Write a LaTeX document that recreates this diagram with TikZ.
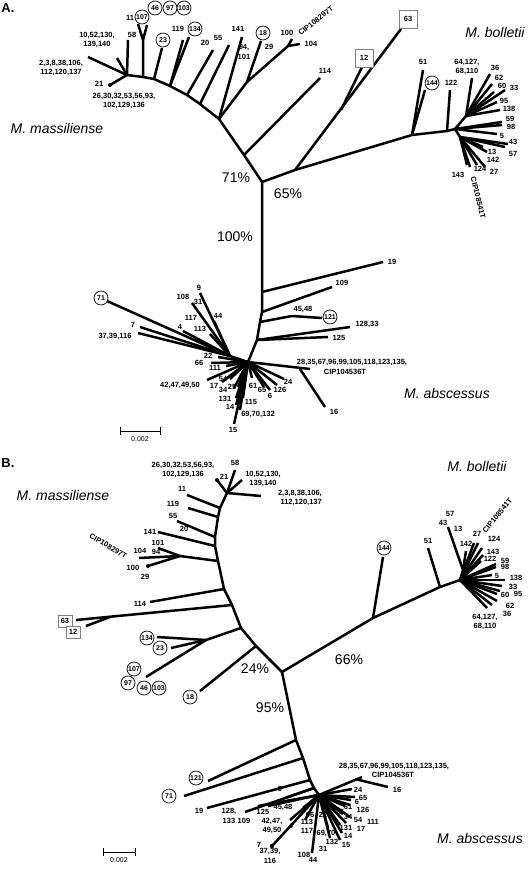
\documentclass[tikz,border=0pt]{standalone}
\usepackage{fontspec}
\setmainfont{Liberation Sans}
\usepackage{tikz}

\begin{document}
\begin{tikzpicture}[x=1pt,y=-1pt,line join=round,
    br/.style={line width=2.5pt},
    lab/.style={font=\bfseries\fontsize{7.5}{9.5}\selectfont, inner sep=0pt, align=center},
    circ/.style={draw, circle, line width=0.7pt, inner sep=0pt, minimum size=14pt, fill=white, font=\bfseries\fontsize{7}{8}\selectfont},
    sq/.style={draw=gray, line width=0.7pt, inner sep=0pt, minimum size=18pt, fill=white, font=\bfseries\fontsize{7.5}{8}\selectfont},
    spec/.style={font=\itshape\fontsize{14}{16}\selectfont, inner sep=0pt},
    pct/.style={font=\fontsize{14}{16}\selectfont, inner sep=0pt}]
\useasboundingbox (0,0) rectangle (528,869);

%%%%%%%%%%%%%%%% A %%%%%%%%%%%%%%%%
\node[font=\bfseries\fontsize{13}{14}\selectfont, inner sep=0pt] (pA) at (8,8) {A.};
\node[spec] (mA) at (57,128) {M. massiliense};
\node[spec] (bA) at (495,32) {M. bolletii};
\node[spec] (abA) at (447,393) {M. abscessus};
\node[pct] (p71) at (236,178) {71\%};
\node[pct] (p65) at (288,194) {65\%};
\node[pct] (p100) at (235,237) {100\%};

% massiliense
\coordinate (a0) at (262,182);
\coordinate (a1) at (244,155);
\coordinate (a2) at (219,119);
\coordinate (a3) at (200,104);
\coordinate (a4) at (187,95);
\coordinate (a5) at (170,86);
\coordinate (a6) at (154,79);
\coordinate (a7) at (143,77);
\coordinate (a8) at (127,75);
\coordinate (a9) at (247,82);
\coordinate (a10) at (288,46);
\coordinate (a11) at (143,40);
\draw[br] (a0) -- (a1) -- (a2) -- (a3) -- (a4) -- (a5) -- (a6) -- (a7) -- (a8);
\draw[br] (a1) -- (320,78);
\draw[br] (a2) -- (242,37);
\draw[br] (a2) -- (a9) -- (261,41);
\draw[br] (a9) -- (a10) -- (292,39);
\draw[br] (a10) -- (300,44);
\draw[br] (a3) -- (229,45);
\draw[br] (a4) -- (213,50);
\draw[br] (a5) -- (183,40);
\draw[br] (a5) -- (189,37);
\draw[br] (a6) -- (162,48);
\draw[br] (a7) -- (a11) -- (138,24);
\draw[br] (a11) -- (147,25);
\draw[br] (a8) -- (128,40);
\draw[br] (a8) -- (117,58);
\draw[br] (a8) -- (88,57);
\draw[br] (a8) -- (110,85);
\fill (110,85) circle (2pt);
\node[lab] (aL114) at (325,71) {114};
\node[lab] (aL141) at (238,29) {141};
\node[circ] (aC18) at (263,33) {18};
\node[lab] (aL94) at (244,52) {94,\\101};
\node[lab] (aL29) at (269,47) {29};
\node[lab] (aL100) at (287,33) {100};
\node[lab] (aL104) at (311,44) {104};
\node[lab, rotate=38, anchor=west] (aLcip1) at (299,34) {CIP108297T};
\node[lab] (aL55) at (218,38) {55};
\node[lab] (aL20) at (205,43) {20};
\node[lab] (aL119) at (178,29) {119};
\node[circ] (aC134) at (195,29) {134};
\node[circ] (aC23) at (163,40) {23};
\node[lab] (aL11) at (130,18) {11};
\node[circ] (aC107) at (142,17) {107};
\node[circ] (aC46) at (155,8) {46};
\node[circ] (aC97) at (170,8) {97};
\node[circ] (aC103) at (184,8) {103};
\node[lab] (aL58) at (132,35) {58};
\node[lab] (aL10) at (97,40) {10,52,130,\\139,140};
\node[lab] (aL2) at (61,68) {2,3,8,38,106,\\112,120,137};
\node[lab] (aL21) at (99,84) {21};
\node[lab] (aL26) at (124,101) {26,30,32,53,56,93,\\102,129,136};

% bolletii
\coordinate (b1) at (295,170);
\coordinate (b2) at (412,135);
\coordinate (b3) at (447,131);
\coordinate (b4) at (455,129);
\coordinate (b5) at (341,110);
\coordinate (b6) at (466,116);
\coordinate (b7) at (460,137);
\draw[br] (a0) -- (b1) -- (b2) -- (b3) -- (b4);
\draw[br] (b1) -- (401,29);
\draw[br] (b5) -- (362,67);
\node[sq] (aS63) at (408,19) {63};
\node[sq] (aS12) at (364,58) {12};
\draw[br] (b2) -- (423,70);
\draw[br] (b2) -- (425,90);
\node[lab] (aL51) at (423,62) {51};
\node[circ] (aC144) at (432,83) {144};
\draw[br] (b3) -- (450,90);
\node[lab] (aL122) at (451,83) {122};
\draw[br] (b4) -- (b6);
\foreach \p in {(472,78),(490,74),(492,84),(494,92),(505,90),(497,102),(500,110)}
  \draw[br] (b6) -- \p;
\node[lab] (aL64) at (467,67) {64,127,\\68,110};
\node[lab] (aL36) at (495,68) {36};
\node[lab] (aL62) at (499,78) {62};
\node[lab] (aL60) at (502,86) {60};
\node[lab] (aL33) at (514,88) {33};
\node[lab] (aL95) at (504,101) {95};
\node[lab] (aL138) at (509,109) {138};
\draw[br] (b4) -- (502,122);
\draw[br] (b4) -- (502,125);
\draw[br] (b4) -- (497,134);
\node[lab] (aL59) at (510,119) {59};
\node[lab] (aL98) at (511,127) {98};
\node[lab] (aL5) at (502,136) {5};
\draw[br] (b4) -- (b7);
\foreach \p in {(508,144),(505,147),(483,147),(487,152),(485,167),(477,165),(470,167),(467,165)}
  \draw[br] (b7) -- \p;
\node[lab] (aL43) at (513,142) {43};
\node[lab] (aL57) at (513,154) {57};
\node[lab] (aL13) at (492,152) {13};
\node[lab] (aL142) at (493,160) {142};
\node[lab] (aL27) at (494,172) {27};
\node[lab] (aL124) at (480,169) {124};
\node[lab] (aL143) at (458,175) {143};
\node[lab, rotate=-76, anchor=west] (aLcip2) at (473,177) {CIP108541T};

% abscessus
\coordinate (c1) at (262,292);
\coordinate (c2) at (262,312);
\coordinate (c3) at (260,322);
\coordinate (c4) at (257,340);
\coordinate (c5) at (248,362);
\coordinate (c6) at (292,316);
\coordinate (c8) at (300,369);
\coordinate (c9) at (230,356);
\draw[br] (a0) -- (c1) -- (c2) -- (c3) -- (c4) -- (c5);
\draw[br] (c1) -- (383,262);
\draw[br] (c2) -- (332,287);
\draw[br] (c3) -- (c6) -- (322,318);
\draw[br] (c4) -- (350,327);
\draw[br] (c4) -- (328,337);
\node[lab] (aL19) at (392,262) {19};
\node[lab] (aL109) at (342,283) {109};
\node[lab] (aL45) at (303,309) {45,48};
\node[circ] (aC121) at (330,317) {121};
\node[lab] (aL128) at (367,324) {128,33};
\node[lab] (aL125) at (339,338) {125};
\draw[br] (c5) -- (310,369);
\draw[br] (c8) -- (325,407);
\node[lab] (aL28) at (352,362) {28,35,67,96,99,105,118,123,135,};
\node[lab] (aLcip3) at (345,372) {CIP104536T};
\node[lab] (aL16) at (334,412) {16};
\draw[br] (c5) -- (c9);
\foreach \p in {(107,301),(140,327),(138,333),(183,331),(210,334),(214,321),(200,293),(192,303)}
  \draw[br] (c9) -- \p;
\node[circ] (aC71) at (101,298) {71};
\node[lab] (aL7) at (133,325) {7};
\node[lab] (aL37) at (115,336) {37,39,116};
\node[lab] (aL4) at (180,327) {4};
\node[lab] (aL113) at (200,329) {113};
\node[lab] (aL44) at (218,316) {44};
\node[lab] (aL117) at (191,318) {117};
\node[lab] (aL9) at (199,288) {9};
\node[lab] (aL108) at (183,297) {108};
\node[lab] (aL31) at (198,302) {31};
\foreach \p in {(218,357),(211,363),(226,366),(207,380),(222,382),(230,379),(234,388),(238,387),
                (236,398),(236,405),(234,424),(240,410),(243,398),(252,378),(264,387),(270,390),(277,385),(284,379)}
  \draw[br] (c5) -- \p;
\node[lab] (aL22) at (208,356) {22};
\node[lab] (aL66) at (199,363) {66};
\node[lab] (aL111) at (215,368) {111};
\node[lab] (aL42) at (180,385) {42,47,49,50};
\node[lab] (aL17) at (214,386) {17};
\node[lab] (aL54) at (223,379) {54};
\node[lab] (aL34) at (223,390) {34};
\node[lab] (aL25) at (232,387) {25};
\node[lab] (aL131) at (225,399) {131};
\node[lab] (aL14) at (230,407) {14};
\node[lab] (aL15) at (233,430) {15};
\node[lab] (aL69) at (258,414) {69,70,132};
\node[lab] (aL115) at (251,402) {115};
\node[lab] (aL61) at (253,386) {61};
\node[lab] (aL65) at (262,390) {65};
\node[lab] (aL6) at (270,396) {6};
\node[lab] (aL126) at (280,390) {126};
\node[lab] (aL24) at (288,382) {24};

% scale
\draw[thick] (120,431) -- (160,431);
\draw[thick] (120,427) -- (120,435);
\draw[thick] (160,427) -- (160,435);
\node[font=\fontsize{7}{8}\selectfont, inner sep=0pt] (sA) at (140,439) {0.002};

%%%%%%%%%%%%%%%% B %%%%%%%%%%%%%%%%
\node[font=\bfseries\fontsize{13}{14}\selectfont, inner sep=0pt] (pB) at (8,463) {B.};
\node[spec] (mB) at (63,495) {M. massiliense};
\node[spec] (bB) at (477,466) {M. bolletii};
\node[spec] (abB) at (480,838) {M. abscessus};
\node[pct] (p24) at (255,669) {24\%};
\node[pct] (p95) at (270,708) {95\%};
\node[pct] (p66) at (349,660) {66\%};

% bolletii
\coordinate (d0) at (282,672);
\coordinate (d1) at (373,618);
\coordinate (d2) at (440,587);
\coordinate (d3) at (460,580);
\coordinate (d4) at (463,570);
\draw[br] (d0) -- (d1) -- (d2) -- (d3);
\draw[br] (d1) -- (383,557);
\node[circ] (bC144) at (384,548) {144};
\draw[br] (d2) -- (428,548);
\node[lab] (bL51) at (428,541) {51};
\draw[br] (d3) -- (d4) -- (448,527);
\draw[br] (d4) -- (466,551);
\node[lab] (bL57) at (450,514) {57};
\node[lab] (bL43) at (443,523) {43};
\node[lab] (bL13) at (458,529) {13};
\node[lab] (bL142) at (466,544) {142};
\foreach \p in {(474,543),(478,543),(482,548),(483,555),(481,561),(496,564),(496,567),(492,575),
                (505,580),(502,586),(500,591),(497,594),(497,601),(492,605),(487,608)}
  \draw[br] (d3) -- \p;
\node[lab] (bL27) at (477,534) {27};
\node[lab, rotate=51, anchor=west] (bLcip1) at (484,532) {CIP108541T};
\node[lab] (bL124) at (494,539) {124};
\node[lab] (bL143) at (493,552) {143};
\node[lab] (bL122) at (490,559) {122};
\node[lab] (bL59) at (505,561) {59};
\node[lab] (bL98) at (505,567) {98};
\node[lab] (bL5) at (497,576) {5};
\node[lab] (bL138) at (516,578) {138};
\node[lab] (bL33) at (513,587) {33};
\node[lab] (bL95) at (518,594) {95};
\node[lab] (bL60) at (505,595) {60};
\node[lab] (bL62) at (510,606) {62};
\node[lab] (bL36) at (507,614) {36};
\node[lab] (bL64) at (485,622) {64,127,\\68,110};

% massiliense
\coordinate (e1) at (256,646);
\coordinate (e2) at (241,628);
\coordinate (e3) at (232,605);
\coordinate (e4) at (224,589);
\coordinate (e5) at (218,561);
\coordinate (e6) at (215,546);
\coordinate (e7) at (215,537);
\coordinate (e8) at (218,517);
\coordinate (e9) at (220,508);
\coordinate (e10) at (227,493);
\coordinate (e11) at (206,640);
\coordinate (e12) at (180,556);
\coordinate (e13) at (110,617);
\draw[br] (d0) -- (e1) -- (e2) -- (e3) -- (e4) -- (e5) -- (e6) -- (e7) -- (e8) -- (e9) -- (e10);
\draw[br] (e1) -- (200,691);
\node[circ] (bC18) at (190,697) {18};
\draw[br] (e2) -- (e11) -- (157,637);
\draw[br] (e11) -- (171,648);
\draw[br] (e11) -- (146,677);
\node[circ] (bC134) at (147,638) {134};
\node[circ] (bC23) at (160,648) {23};
\node[circ] (bC107) at (134,669) {107};
\node[circ] (bC97) at (128,683) {97};
\node[circ] (bC46) at (144,688) {46};
\node[circ] (bC103) at (159,688) {103};
\draw[br] (e3) -- (76,620);
\draw[br] (e13) -- (86,626);
\node[sq, minimum width=14pt, minimum height=12pt] (bS63) at (65,621) {63};
\node[sq, minimum width=14pt, minimum height=12pt] (bS12) at (73,632) {12};
\draw[br] (e4) -- (150,602);
\node[lab] (bL114) at (140,604) {114};
\draw[br] (e5) -- (e12) -- (158,548);
\draw[br] (e12) -- (139,558);
\draw[br] (e12) -- (148,566);
\fill (148,566) circle (2pt);
\node[lab] (bL101) at (158,543) {101};
\node[lab] (bL94) at (156,552) {94};
\node[lab] (bL104) at (140,551) {104};
\node[lab, rotate=-31, anchor=west] (bLcip2) at (90,535) {CIP108297T};
\node[lab] (bL100) at (133,568) {100};
\node[lab] (bL29) at (145,577) {29};
\draw[br] (e6) -- (158,532);
\node[lab] (bL141) at (150,532) {141};
\draw[br] (e7) -- (177,521);
\node[lab] (bL55) at (173,516) {55};
\node[lab] (bL20) at (184,529) {20};
\draw[br] (e8) -- (188,508);
\node[lab] (bL119) at (173,504) {119};
\draw[br] (e9) -- (187,495);
\node[lab] (bL11) at (182,489) {11};
\draw[br] (e10) -- (217,480);
\fill (217,480) circle (2pt);
\node[lab] (bL21) at (224,477) {21};
\node[lab] (bL26) at (183,470) {26,30,32,53,56,93,\\102,129,136};
\draw[br] (e10) -- (235,470);
\node[lab] (bL58) at (235,463) {58};
\draw[br] (e10) -- (242,480);
\node[lab] (bL10) at (263,479) {10,52,130,\\139,140};
\draw[br] (e10) -- (261,496);
\node[lab, anchor=east, align=right] (bL2) at (322,498) {2,3,8,38,106,\\112,120,137};

% abscessus
\coordinate (f1) at (296,740);
\coordinate (f2) at (303,758);
\coordinate (f3) at (310,780);
\coordinate (f4) at (314,788);
\coordinate (f5) at (319,795);
\coordinate (f6) at (355,779);
\draw[br] (d0) -- (f1) -- (f2) -- (f3) -- (f4) -- (f5);
\draw[br] (f1) -- (208,781);
\node[circ] (bC121) at (196,778) {121};
\draw[br] (f2) -- (184,796);
\node[circ] (bC71) at (169,796) {71};
\draw[br] (f3) -- (207,808);
\node[lab] (bL19) at (199,811) {19};
\draw[br] (f4) -- (245,812);
\draw[br] (f5) -- (258,806);
\draw[br] (f5) -- (268,806);
\draw[br] (f4) -- (285,798);
\node[lab] (bL128) at (229,816) {128,\\133};
\node[lab] (bL109) at (244,821) {109};
\node[lab] (bL125) at (263,812) {125};
\node[lab] (bL45) at (283,807) {45,48};
\node[lab] (bL42) at (272,826) {42,47,\\49,50};
\node[lab] (bL9) at (280,789) {9};
\draw[br] (f5) -- (362,777);
\draw[br] (f6) -- (388,787);
\node[lab] (bL28) at (394,766) {28,35,67,96,99,105,118,123,135,};
\node[lab] (bLcip3) at (393,775) {CIP104536T};
\node[lab] (bL16) at (397,790) {16};
\foreach \p in {(352,789),(355,797),(351,800),(350,805),(345,806),(336,809),(343,814),(350,817),
                (340,825),(346,823),(342,833),(340,840),(328,828),(330,838),(312,853),(303,808),
                (305,820),(290,820),(272,846)}
  \draw[br] (f5) -- \p;
\fill (272,846) circle (2.2pt);
\node[lab] (bL24) at (358,790) {24};
\node[lab] (bL65) at (363,798) {65};
\node[lab] (bL6) at (357,802) {6};
\node[lab] (bL126) at (363,810) {126};
\node[lab] (bL61) at (348,807) {61};
\node[lab] (bL25) at (340,812) {25};
\node[lab] (bL34) at (348,817) {34};
\node[lab] (bL54) at (358,820) {54};
\node[lab] (bL111) at (373,822) {111};
\node[lab] (bL131) at (346,828) {131};
\node[lab] (bL17) at (361,829) {17};
\node[lab] (bL14) at (348,836) {14};
\node[lab] (bL15) at (346,845) {15};
\node[lab] (bL69) at (326,833) {69,70};
\node[lab] (bL132) at (332,842) {132};
\node[lab] (bL31) at (323,849) {31};
\node[lab] (bL108) at (304,855) {108};
\node[lab] (bL44) at (313,860) {44};
\node[lab] (bL117) at (307,831) {117};
\node[lab] (bL113) at (307,822) {113};
\node[lab] (bL66) at (310,815) {66};
\node[lab] (bL22) at (323,815) {22};
\node[lab] (bL4) at (291,826) {4};
\node[lab] (bL7) at (259,845) {7};
\node[lab] (bL37) at (270,856) {37,39,\\116};

% scale
\draw[thick] (103,852) -- (135,852);
\draw[thick] (103,848) -- (103,856);
\draw[thick] (135,848) -- (135,856);
\node[font=\fontsize{7}{8}\selectfont, inner sep=0pt] (sB) at (119,860) {0.002};
\end{tikzpicture}
\end{document}
